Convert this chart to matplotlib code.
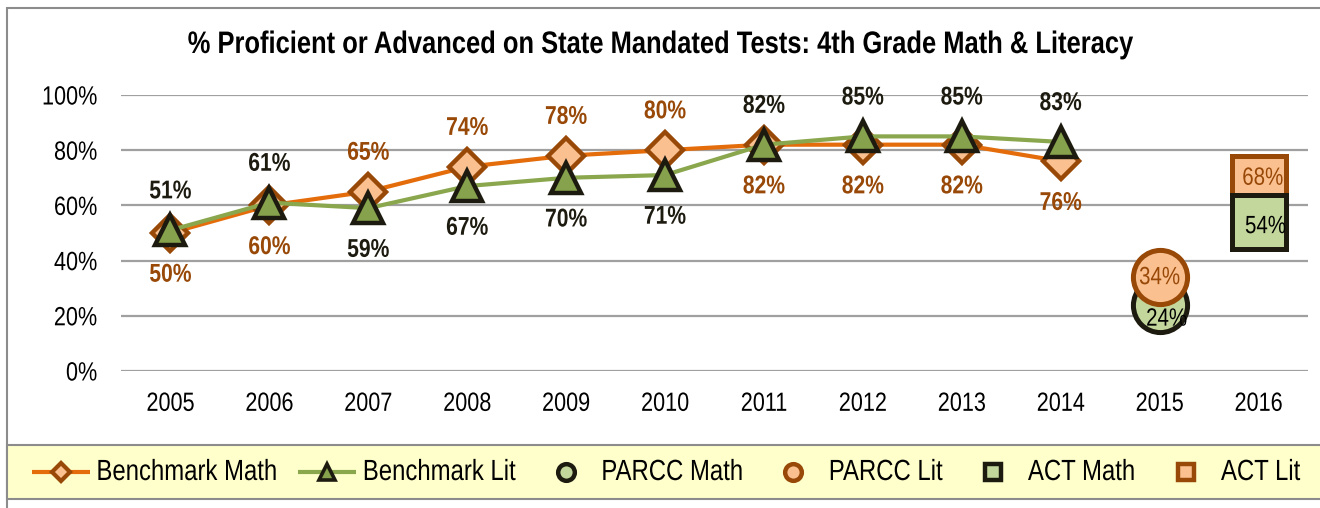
import numpy as np
import matplotlib
matplotlib.use('Agg')
import matplotlib.pyplot as plt
from matplotlib.lines import Line2D
from matplotlib.patches import Rectangle
from matplotlib.patheffects import AbstractPathEffect
from matplotlib.transforms import Affine2D

# ---------------- data ----------------
years = ['2005', '2006', '2007', '2008', '2009', '2010',
         '2011', '2012', '2013', '2014', '2015', '2016']
bench_years = years[:10]
bench_math = [50, 60, 65, 74, 78, 80, 82, 82, 82, 76]
bench_lit = [51, 61, 59, 67, 70, 71, 82, 85, 85, 83]
parcc_year = '2015'
parcc_math = 24
parcc_lit = 34
act_year = '2016'
act_math = 54
act_lit = 68
y_ticks = [0, 20, 40, 60, 80, 100]
title = '% Proficient or Advanced on State Mandated Tests: 4th Grade Math & Literacy'
legend_labels = ['Benchmark Math', 'Benchmark Lit', 'PARCC Math', 'PARCC Lit', 'ACT Math', 'ACT Lit']

# ---------------- style ----------------
plt.rcParams['font.family'] = ['Liberation Sans', 'DejaVu Sans']
ORANGE = '#E46C0A'
BROWN = '#984807'
LIGHT_OR = '#FAC090'
GREEN = '#8AA74E'
TRI_FILL = '#86A24C'
DARK = '#1D1B10'
LIGHT_GR = '#C3D69B'
GRID = '#A0A0A0'
W, H = 1320, 508
SX = 0.82  # narrow (condensed) look of the original font


class Squeeze(AbstractPathEffect):
    """Horizontally condense text glyphs around an anchor."""

    def __init__(self, sx=SX, anchor='center'):
        super().__init__()
        self.sx = sx
        self.anchor = anchor

    def draw_path(self, renderer, gc, tpath, affine, rgbFace=None):
        ext = tpath.get_extents(affine)
        if self.anchor == 'left':
            cx = ext.x0
        elif self.anchor == 'right':
            cx = ext.x1
        else:
            cx = 0.5 * (ext.x0 + ext.x1)
        t = affine + Affine2D().translate(-cx, 0).scale(self.sx, 1).translate(cx, 0)
        renderer.draw_path(gc, tpath, t, rgbFace)


fig = plt.figure(figsize=(W / 100, H / 100), dpi=100)
ax = fig.add_axes([121 / W, 137 / H, 1187 / W, 276 / H])

xi = {y: i for i, y in enumerate(years)}
xb = [xi[y] for y in bench_years]

ax.plot(xb, bench_math, color=ORANGE, lw=3, marker='D', ms=18, mfc=LIGHT_OR,
        mec=BROWN, mew=3.2, zorder=3, clip_on=False)
ax.plot(xb, bench_lit, color=GREEN, lw=3, marker='^', ms=22, mfc=TRI_FILL,
        mec=DARK, mew=3.2, zorder=4, clip_on=False)

ax.plot([xi[parcc_year]], [parcc_math], marker='o', ms=39, mfc=LIGHT_GR, mec=DARK,
        mew=3.6, ls='none', zorder=5, clip_on=False)
ax.plot([xi[parcc_year]], [parcc_lit], marker='o', ms=39, mfc=LIGHT_OR, mec=BROWN,
        mew=3.6, ls='none', zorder=6, clip_on=False)
ax.plot([xi[act_year]], [act_lit], marker='s', ms=39, mfc=LIGHT_OR, mec=BROWN,
        mew=3.6, ls='none', zorder=5, clip_on=False)
ax.plot([xi[act_year]], [act_math], marker='s', ms=39, mfc=LIGHT_GR, mec=DARK,
        mew=3.6, ls='none', zorder=6, clip_on=False)

# data labels for benchmark series
for x, m, l in zip(xb, bench_math, bench_lit):
    math_above = m > l
    m_off = 28 if math_above else -30
    l_off = -30 if math_above else 28
    ax.annotate(f'{m}%', (x, m), xytext=(0, m_off), textcoords='offset points',
                ha='center', va='center', fontsize=18.5, fontweight='bold',
                color=BROWN, zorder=10, path_effects=[Squeeze()])
    ax.annotate(f'{l}%', (x, l), xytext=(0, l_off), textcoords='offset points',
                ha='center', va='center', fontsize=18.5, fontweight='bold',
                color=DARK, zorder=10, path_effects=[Squeeze()])

# labels centred in the big markers
ax.annotate(f'{parcc_lit}%', (xi[parcc_year], parcc_lit), xytext=(0, 0),
            textcoords='offset points', ha='center', va='center', fontsize=18,
            color=BROWN, zorder=10, path_effects=[Squeeze()])
ax.annotate(f'{parcc_math}%', (xi[parcc_year], parcc_math), xytext=(5, -10),
            textcoords='offset points', ha='center', va='center', fontsize=18,
            color='black', zorder=10, path_effects=[Squeeze()])
ax.annotate(f'{act_lit}%', (xi[act_year], act_lit), xytext=(3, 4),
            textcoords='offset points', ha='center', va='center', fontsize=18,
            color=BROWN, zorder=10, path_effects=[Squeeze()])
ax.annotate(f'{act_math}%', (xi[act_year], act_math), xytext=(5, -3),
            textcoords='offset points', ha='center', va='center', fontsize=18,
            color='black', zorder=10, path_effects=[Squeeze()])

ax.set_xlim(-0.5, len(years) - 0.5)
ax.set_ylim(0, 100)
ax.set_xticks(range(len(years)), years)
ax.set_yticks(y_ticks, [f'{v}%' for v in y_ticks])
ax.tick_params(axis='both', length=0, labelsize=19)
ax.tick_params(axis='y', pad=17)
ax.tick_params(axis='x', pad=15)
for lbl in ax.get_yticklabels():
    lbl.set_path_effects([Squeeze(anchor='right')])
for lbl in ax.get_xticklabels():
    lbl.set_path_effects([Squeeze(anchor='center')])
ax.yaxis.grid(True, color=GRID, lw=1.6)
ax.set_axisbelow(True)
for s in ax.spines.values():
    s.set_visible(False)

# title
fig.text(661 / W, 1 - 45 / H, title, ha='center', va='center', fontsize=22.4,
         fontweight='bold', color='black', path_effects=[Squeeze()])

# outer chart border
fig.patches.append(Rectangle((7 / W, -0.05), 1.2, 1 - 8 / H + 0.05, transform=fig.transFigure,
                             fill=False, edgecolor='#8C8C8C', lw=1.5, zorder=0))
# legend band
fig.patches.append(Rectangle((7 / W, 1 - 499 / H), 1.2, 54 / H, transform=fig.transFigure,
                             facecolor='#FFFFCC', edgecolor='#8C8C8C', lw=1.5, zorder=1))

# legend (laid out by hand so the condensed text widths are respected)
handle_styles = [
    dict(color=ORANGE, lw=3, marker='D', ms=9, mfc=LIGHT_OR, mec=BROWN, mew=3, line=True),
    dict(color=GREEN, lw=3, marker='^', ms=11, mfc=TRI_FILL, mec=DARK, mew=2.6, line=True),
    dict(marker='o', ms=12, mfc=LIGHT_GR, mec=DARK, mew=3.2, line=False),
    dict(marker='o', ms=12, mfc=LIGHT_OR, mec=BROWN, mew=3.2, line=False),
    dict(marker='s', ms=12, mfc=LIGHT_GR, mec=DARK, mew=3.2, line=False),
    dict(marker='s', ms=12, mfc=LIGHT_OR, mec=BROWN, mew=3.2, line=False),
]
renderer = fig.canvas.get_renderer()
yc = 1 - 472 / H
cursor = 32.0
handle_len, text_pad, col_gap = 58.0, 6.0, 22.0
for lab, st in zip(legend_labels, handle_styles):
    st = dict(st)
    has_line = st.pop('line')
    hx = [cursor / W, (cursor + handle_len / 2) / W, (cursor + handle_len) / W]
    if has_line:
        fig.add_artist(Line2D(hx, [yc] * 3, transform=fig.transFigure, markevery=[1],
                              solid_capstyle='butt', zorder=6, **st))
    else:
        fig.add_artist(Line2D([hx[1]], [yc], transform=fig.transFigure, ls='none',
                              zorder=6, **st))
    t = fig.text((cursor + handle_len + text_pad) / W, yc, lab, ha='left', va='center',
                 fontsize=21, color='black', zorder=6,
                 path_effects=[Squeeze(anchor='left')])
    tw = t.get_window_extent(renderer).width * SX
    cursor += handle_len + text_pad + tw + col_gap

fig.savefig('out.png', dpi=100)
